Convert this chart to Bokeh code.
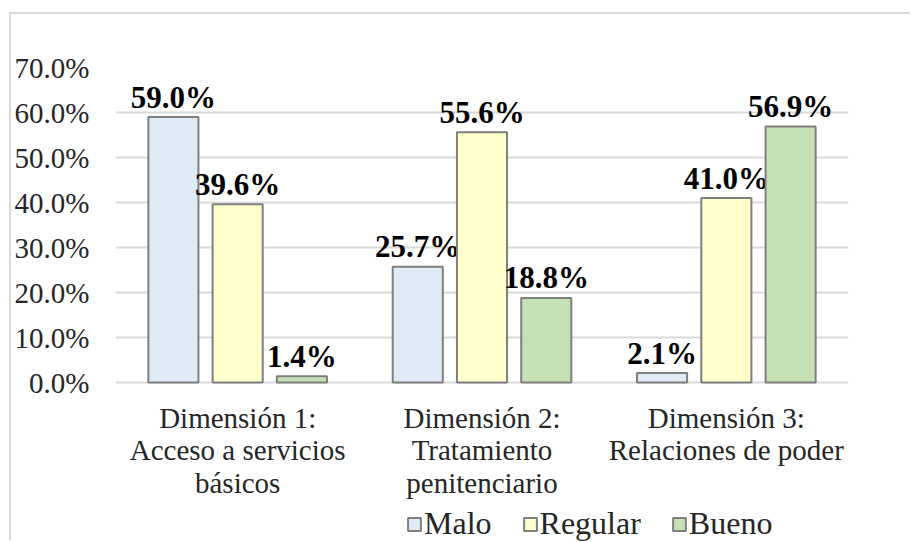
from bokeh.plotting import figure
from bokeh.models import (FactorRange, ColumnDataSource, FixedTicker, NumeralTickFormatter,
                          Legend, LegendItem)
from bokeh.transform import dodge
from bokeh.core.properties import value
from bokeh.embed import file_html
from bokeh.resources import INLINE

# ---- data ----
categories = ["D1", "D2", "D3"]
category_labels = ["Dimensión 1:\nAcceso a servicios\nbásicos",
                   "Dimensión 2:\nTratamiento\npenitenciario",
                   "Dimensión 3:\nRelaciones de poder"]
series_names = ["Malo", "Regular", "Bueno"]
malo = [0.590, 0.257, 0.021]
regular = [0.396, 0.556, 0.410]
bueno = [0.014, 0.188, 0.569]
y_ticks = [0.0, 0.1, 0.2, 0.3, 0.4, 0.5, 0.6, 0.7]

colors = ["#DEEBF7", "#FFFFCC", "#C5E0B4"]
offsets = [-0.263, 0.0, 0.263]
FONT = "Liberation Serif"

# frame extends below the value axis to make room for category labels and legend
Y_TOP = 0.7
Y_BOTTOM = Y_TOP - 475 / 450

p = figure(x_range=FactorRange(*categories), y_range=(Y_BOTTOM, Y_TOP),
           width=901, height=528, output_backend="svg", toolbar_location=None,
           min_border_left=104, min_border_right=64, min_border_top=53, min_border_bottom=0)
p.styles = {"border-top": "2px solid #d9d9d9", "border-left": "2px solid #d9d9d9",
            "margin-left": "9px", "margin-top": "12px"}
p.outline_line_color = None
p.background_fill_color = "white"
p.border_fill_color = "white"

items = []
for name, vals, col, off in zip(series_names, [malo, regular, bueno], colors, offsets):
    src = ColumnDataSource(dict(cat=categories, val=vals,
                                lab=[f"{v * 100:.1f}%" for v in vals]))
    r = p.vbar(x=dodge("cat", off, range=p.x_range), top="val", bottom=0, width=0.205,
               source=src, fill_color=col, line_color="#7f7f7f", line_width=2)
    p.text(x=dodge("cat", off, range=p.x_range), y="val", text="lab", source=src,
           text_align="center", text_baseline="alphabetic", y_offset=-20,
           text_font=value(FONT), text_font_style="bold", text_font_size="31px",
           text_color="black")
    items.append(LegendItem(label=name, renderers=[r]))

# category labels under the zero line
cat_src = ColumnDataSource(dict(cat=categories, lab=category_labels, base=[0, 0, 0]))
p.text(x="cat", y="base", text="lab", source=cat_src, text_align="center",
       text_baseline="top", y_offset=19, text_font=value(FONT), text_font_size="29px",
       text_color="#262626", text_line_height=1.02)

# axes
p.yaxis.ticker = FixedTicker(ticks=y_ticks)
p.yaxis.formatter = NumeralTickFormatter(format="0.0%")
p.yaxis.axis_line_color = None
p.yaxis.major_tick_line_color = None
p.yaxis.minor_tick_line_color = None
p.yaxis.major_tick_out = 0
p.yaxis.major_label_standoff = 26
p.yaxis.major_label_text_font = FONT
p.yaxis.major_label_text_font_size = "29px"
p.yaxis.major_label_text_color = "#262626"
p.xaxis.visible = False

p.xgrid.grid_line_color = None
p.ygrid.ticker = FixedTicker(ticks=y_ticks)
p.ygrid.grid_line_color = "#d9d9d9"
p.ygrid.grid_line_width = 2

legend = Legend(items=items, orientation="horizontal", location=(291, 0),
                glyph_width=16, glyph_height=16, label_standoff=2, spacing=30,
                padding=0, margin=0, border_line_color=None, background_fill_alpha=0,
                label_text_font=FONT, label_text_font_size="32px", label_text_color="#262626")
p.add_layout(legend, "center")

open("out.html", "w").write(file_html(p, INLINE))
